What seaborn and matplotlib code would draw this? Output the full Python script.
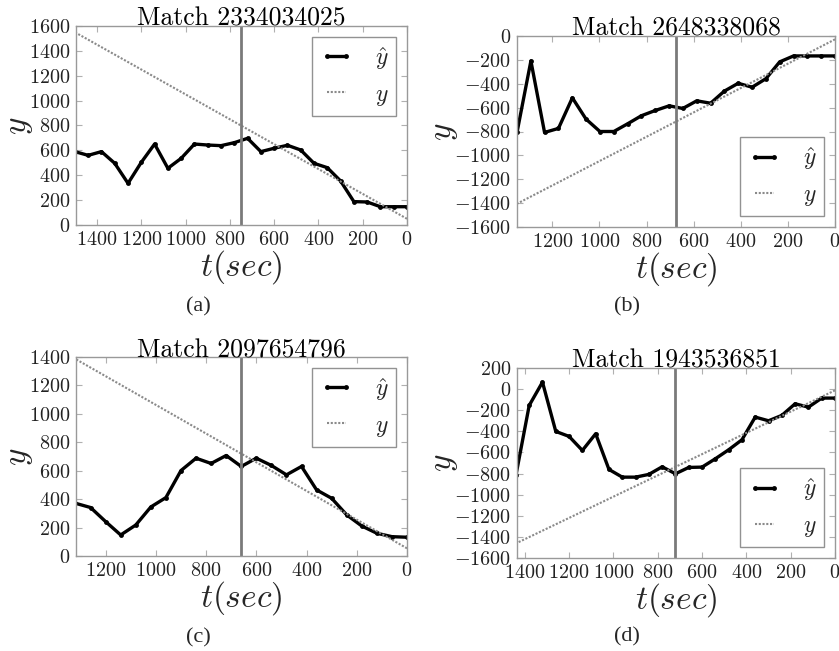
import matplotlib
matplotlib.use("Agg")
import matplotlib.pyplot as plt
from matplotlib.ticker import MultipleLocator
import seaborn as sns
import pandas as pd

# panel (a)
t_a = [1500, 1440, 1380, 1320, 1260, 1200, 1140, 1080, 1020, 960, 900, 840, 780,
       720, 660, 600, 540, 480, 420, 360, 300, 240, 180, 120, 60, 0]
yhat_a = [590, 560, 590, 496, 335, 504, 651, 456, 536, 651, 643, 638, 662,
          697, 590, 617, 641, 603, 496, 461, 354, 188, 185, 147, 147, 147]
ytrue_t_a = [1500, 0]
ytrue_a = [1550, 50]

# panel (b)
t_b = [1350, 1291, 1233, 1174, 1115, 1057, 998, 939, 880, 822, 763, 704,
       646, 587, 528, 470, 411, 352, 293, 235, 176, 117, 59, 0]
yhat_b = [-808, -209, -808, -774, -518, -696, -800, -800, -735, -668, -624, -585,
          -607, -543, -563, -462, -396, -429, -357, -217, -167, -167, -167, -167]
ytrue_t_b = [1350, 0]
ytrue_b = [-1405, -28]

# panel (c)
t_c = [1320, 1260, 1200, 1140, 1080, 1020, 960, 900, 840, 780, 720, 660,
       600, 540, 480, 420, 360, 300, 240, 180, 120, 60, 0]
yhat_c = [371, 341, 242, 148, 218, 345, 411, 601, 688, 651, 707, 630,
          688, 637, 571, 630, 465, 406, 289, 211, 160, 136, 132]
ytrue_t_c = [1320, 0]
ytrue_c = [1386, 54]

# panel (d)
t_d = [1440, 1380, 1320, 1260, 1200, 1140, 1080, 1020, 960, 900, 840, 780, 720,
       660, 600, 540, 480, 420, 360, 300, 240, 180, 120, 60, 0]
yhat_d = [-818, -155, 66, -401, -448, -581, -423, -761, -834, -834, -808, -736, -802,
          -742, -739, -660, -575, -480, -265, -300, -249, -139, -171, -85, -85]
ytrue_t_d = [1440, 0]
ytrue_d = [-1462, -12]

titles = ["Match 2334034025", "Match 2648338068", "Match 2097654796", "Match 1943536851"]
captions = ["(a)", "(b)", "(c)", "(d)"]
split_t = [750, 675, 660, 720]
xlims = [(1495, 0), (1350, 0), (1318, 0), (1435, 0)]
ylims = [(0, 1600), (-1600, 0), (0, 1400), (-1600, 200)]
legend_locs = ["upper right", "lower right", "upper right", "lower right"]

sns.set_style("white")
plt.rcParams["font.family"] = ["cmr10"]
plt.rcParams["mathtext.fontset"] = "cm"
plt.rcParams["axes.formatter.use_mathtext"] = True
plt.rcParams["axes.unicode_minus"] = True

panels = [
    (t_a, yhat_a, ytrue_t_a, ytrue_a),
    (t_b, yhat_b, ytrue_t_b, ytrue_b),
    (t_c, yhat_c, ytrue_t_c, ytrue_c),
    (t_d, yhat_d, ytrue_t_d, ytrue_d),
]

# axes rectangles in pixels: left, top, right, bottom
boxes = [(76, 26, 407, 225), (517, 36, 835, 227), (76, 357, 407, 556), (517, 368, 835, 558)]
cap_pos = [(198, 307), (627, 307), (198, 638), (627, 637)]

W, H = 839, 651
fig = plt.figure(figsize=(W / 100, H / 100), dpi=100)

for i, (t, yh, tt, yt) in enumerate(panels):
    l, tp, r, b = boxes[i]
    ax = fig.add_axes([l / W, 1 - b / H, (r - l) / W, (b - tp) / H])
    df = pd.DataFrame({"t": t, "yhat": yh})
    dft = pd.DataFrame({"t": tt, "y": yt})
    sns.lineplot(data=df, x="t", y="yhat", ax=ax, color="black", linewidth=2.4,
                 marker="o", markersize=3.5, markeredgewidth=0, label=r"$\hat{y}$")
    sns.lineplot(data=dft, x="t", y="y", ax=ax, color="#8a8a8a", linewidth=1.5,
                 linestyle=(0, (1, 0.8)), label=r"$y$")
    ax.axvline(split_t[i], color="#7a7a7a", linewidth=2)
    ax.set_xlim(*xlims[i])
    ax.set_ylim(*ylims[i])
    ax.xaxis.set_major_locator(MultipleLocator(200))
    ax.yaxis.set_major_locator(MultipleLocator(200))
    ax.set_title(titles[i], fontsize=18.5, pad=0, color="black")
    ax.set_xlabel(r"$t(sec)$", fontsize=24, labelpad=0)
    ax.set_ylabel(r"$y$", fontsize=24, labelpad=-4)
    ax.tick_params(axis="both", which="major", labelsize=14.5, direction="in",
                   length=4, color="#b0b0b0", width=0.8, pad=4, labelcolor="#222222")
    ax.tick_params(top=True, right=True, bottom=True, left=True)
    for s in ax.spines.values():
        s.set_color("#999999")
        s.set_linewidth(1.0)
    leg = ax.legend(loc=legend_locs[i], fontsize=17, numpoints=2, fancybox=False,
                    frameon=True, handlelength=1.4, borderpad=0.35, labelspacing=0.5,
                    handletextpad=0.9, borderaxespad=0.45, markerfirst=True)
    leg.get_frame().set_edgecolor("#777777")
    leg.get_frame().set_linewidth(1.0)
    fig.text(cap_pos[i][0] / W, 1 - cap_pos[i][1] / H, captions[i], ha="center",
             va="center", fontsize=16, family=["Liberation Serif"])

fig.savefig("out.png", dpi=100)
